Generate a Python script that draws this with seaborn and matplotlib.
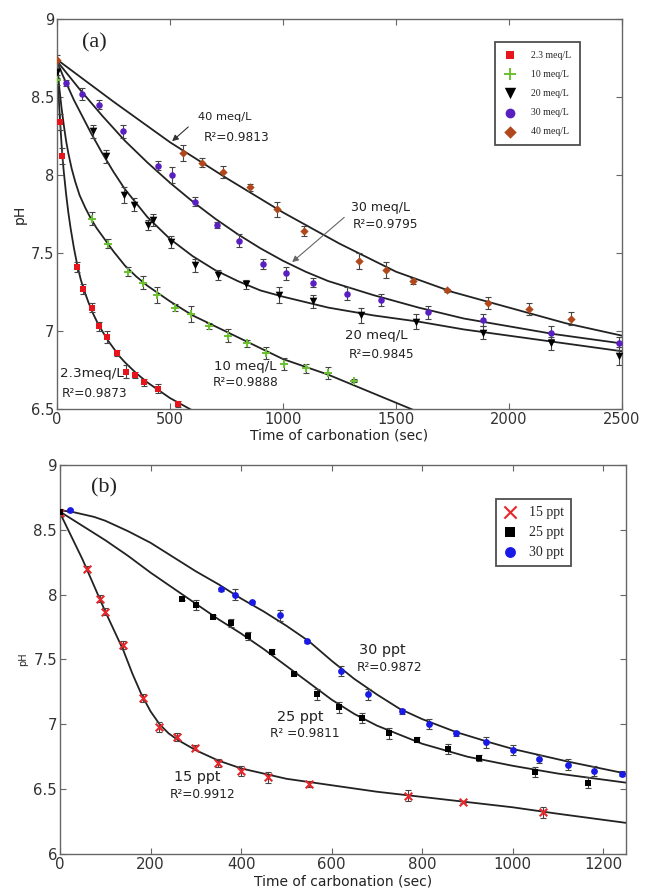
import matplotlib
matplotlib.use("Agg")
import matplotlib.pyplot as plt
import seaborn as sns
import pandas as pd

# ---------------- Panel (a) data ----------------
x23 = [13, 23, 88, 116, 154, 187, 222, 264, 305, 345, 385, 446, 537]
y23 = [8.34, 8.12, 7.41, 7.27, 7.15, 7.03, 6.96, 6.86, 6.74, 6.72, 6.67, 6.63, 6.53]
e23 = [0.05, 0.05, 0.03, 0.03, 0.03, 0.03, 0.04, 0.02, 0.04, 0.02, 0.02, 0.03, 0.02]

x10 = [0, 154, 226, 313, 380, 444, 522, 592, 673, 755, 839, 924, 1006, 1102, 1197, 1314]
y10 = [8.61, 7.72, 7.56, 7.38, 7.31, 7.23, 7.15, 7.11, 7.03, 6.97, 6.92, 6.86, 6.79, 6.76, 6.73, 6.68]
e10 = [0.03, 0.04, 0.03, 0.03, 0.04, 0.05, 0.02, 0.05, 0.02, 0.04, 0.02, 0.04, 0.04, 0.03, 0.04, 0.01]

x20 = [0, 158, 216, 296, 340, 404, 424, 503, 611, 714, 835, 984, 1134, 1345, 1588, 1886, 2185, 2487]
y20 = [8.66, 8.28, 8.12, 7.87, 7.81, 7.68, 7.71, 7.57, 7.42, 7.36, 7.30, 7.23, 7.19, 7.10, 7.06, 6.99, 6.92, 6.84]
e20 = [0.04, 0.04, 0.04, 0.05, 0.04, 0.03, 0.04, 0.04, 0.04, 0.03, 0.03, 0.05, 0.04, 0.05, 0.05, 0.04, 0.04, 0.06]

x30 = [40, 111, 187, 291, 446, 507, 609, 706, 803, 913, 1013, 1134, 1283, 1433, 1642, 1886, 2186, 2487]
y30 = [8.59, 8.52, 8.45, 8.28, 8.06, 8.00, 7.83, 7.68, 7.58, 7.43, 7.37, 7.31, 7.24, 7.20, 7.12, 7.07, 6.99, 6.92]
e30 = [0.02, 0.04, 0.03, 0.04, 0.03, 0.05, 0.03, 0.02, 0.04, 0.03, 0.04, 0.03, 0.04, 0.04, 0.04, 0.04, 0.04, 0.04]

x40 = [0, 557, 641, 733, 853, 974, 1093, 1336, 1455, 1576, 1726, 1907, 2088, 2273]
y40 = [8.74, 8.14, 8.08, 8.02, 7.92, 7.78, 7.64, 7.45, 7.39, 7.32, 7.26, 7.18, 7.14, 7.08]
e40 = [0.03, 0.05, 0.03, 0.04, 0.02, 0.05, 0.03, 0.05, 0.05, 0.02, 0.01, 0.04, 0.04, 0.04]

# fitted curves
f23_x = [0, 5, 10, 15, 20, 25, 30, 40, 50, 60, 75, 90, 105, 120, 140, 160, 180, 200, 225, 250,
         275, 300, 350, 400, 450, 500, 550, 600]
f23_y = [8.73, 8.57, 8.43, 8.31, 8.20, 8.10, 8.02, 7.88, 7.76, 7.66, 7.53, 7.42, 7.33, 7.26, 7.18,
         7.11, 7.05, 7.00, 6.94, 6.89, 6.84, 6.80, 6.73, 6.67, 6.62, 6.57, 6.53, 6.49]
f10_x = [0, 10, 20, 30, 40, 50, 65, 80, 100, 125, 150, 175, 200, 250, 300, 350, 400, 500, 600, 700,
         800, 900, 1000, 1100, 1200, 1300, 1400, 1500, 1600]
f10_y = [8.73, 8.56, 8.43, 8.32, 8.22, 8.14, 8.04, 7.96, 7.87, 7.79, 7.72, 7.66, 7.61, 7.51, 7.42,
         7.35, 7.29, 7.19, 7.10, 7.03, 6.96, 6.89, 6.82, 6.77, 6.72, 6.66, 6.60, 6.54, 6.48]
f20_x = [0, 25, 50, 75, 100, 150, 200, 250, 300, 400, 500, 600, 700, 800, 900, 1000, 1200, 1400,
         1600, 1800, 2000, 2200, 2500]
f20_y = [8.73, 8.64, 8.56, 8.48, 8.41, 8.27, 8.14, 8.02, 7.91, 7.73, 7.59, 7.48, 7.39, 7.32, 7.26,
         7.22, 7.15, 7.10, 7.06, 7.01, 6.97, 6.93, 6.87]
f30_x = [0, 50, 100, 200, 300, 400, 500, 600, 700, 800, 900, 1000, 1100, 1200, 1400, 1600, 1800,
         2000, 2200, 2500]
f30_y = [8.73, 8.64, 8.55, 8.38, 8.22, 8.08, 7.95, 7.83, 7.72, 7.62, 7.53, 7.45, 7.38, 7.32, 7.23,
         7.15, 7.08, 7.03, 6.98, 6.92]
f40_x = [0, 250, 500, 750, 1000, 1250, 1500, 1750, 2000, 2250, 2500]
f40_y = [8.74, 8.47, 8.21, 7.98, 7.76, 7.56, 7.38, 7.25, 7.15, 7.05, 6.97]

# ---------------- Panel (b) data ----------------
x15 = [0, 60, 88, 99, 140, 183, 219, 259, 298, 350, 399, 460, 549, 769, 890, 1067]
y15 = [8.63, 8.20, 7.97, 7.87, 7.61, 7.20, 6.98, 6.90, 6.82, 6.70, 6.64, 6.59, 6.54, 6.45, 6.40, 6.32]
e15 = [0.02, 0.02, 0.03, 0.03, 0.03, 0.03, 0.04, 0.03, 0.02, 0.03, 0.04, 0.04, 0.02, 0.04, 0.01, 0.04]

x25 = [0, 269, 300, 337, 377, 416, 468, 517, 567, 616, 667, 727, 788, 857, 926, 1048, 1167]
y25 = [8.64, 7.97, 7.92, 7.83, 7.78, 7.68, 7.56, 7.39, 7.23, 7.13, 7.05, 6.93, 6.88, 6.81, 6.74, 6.63, 6.55]
e25 = [0.02, 0.01, 0.04, 0.01, 0.03, 0.03, 0.02, 0.01, 0.04, 0.04, 0.04, 0.04, 0.02, 0.04, 0.02, 0.04, 0.04]

x30b = [23, 355, 387, 425, 486, 545, 621, 681, 756, 815, 875, 941, 1001, 1059, 1121, 1180, 1242]
y30b = [8.65, 8.04, 8.00, 7.94, 7.84, 7.64, 7.41, 7.23, 7.10, 7.00, 6.93, 6.86, 6.80, 6.73, 6.69, 6.64, 6.62]
e30b = [0.01, 0.01, 0.04, 0.01, 0.04, 0.01, 0.04, 0.04, 0.02, 0.04, 0.02, 0.04, 0.04, 0.03, 0.04, 0.04, 0.02]

g15_x = [0, 25, 50, 75, 100, 120, 140, 160, 180, 200, 220, 240, 260, 280, 300, 325, 350, 375, 400,
         450, 500, 600, 700, 800, 900, 1000, 1100, 1250]
g15_y = [8.63, 8.45, 8.27, 8.07, 7.87, 7.72, 7.57, 7.39, 7.23, 7.10, 7.00, 6.93, 6.88, 6.84, 6.80,
         6.76, 6.72, 6.69, 6.66, 6.62, 6.58, 6.53, 6.48, 6.44, 6.40, 6.36, 6.31, 6.24]
g25_x = [0, 50, 100, 150, 200, 250, 300, 350, 400, 450, 500, 550, 600, 650, 700, 750, 800, 850,
         900, 1000, 1100, 1250]
g25_y = [8.64, 8.53, 8.42, 8.30, 8.17, 8.05, 7.93, 7.81, 7.70, 7.58, 7.45, 7.32, 7.19, 7.08, 6.99,
         6.92, 6.85, 6.80, 6.75, 6.68, 6.62, 6.55]
g30_x = [0, 25, 50, 75, 100, 150, 200, 250, 300, 350, 400, 450, 500, 550, 600, 650, 700, 750, 800,
         875, 950, 1000, 1125, 1250]
g30_y = [8.65, 8.64, 8.62, 8.60, 8.57, 8.49, 8.40, 8.29, 8.18, 8.08, 7.97, 7.87, 7.76, 7.64, 7.49,
         7.35, 7.23, 7.12, 7.04, 6.94, 6.86, 6.81, 6.71, 6.62]

labels_a = ["2.3 meq/L", "10 meq/L", "20 meq/L", "30 meq/L", "40 meq/L"]
labels_b = ["15 ppt", "25 ppt", "30 ppt"]

# ---------------- style ----------------
sns.set_style("ticks")
plt.rcParams["font.family"] = ["DejaVu Sans"]
plt.rcParams["xtick.direction"] = "in"
plt.rcParams["ytick.direction"] = "in"
plt.rcParams["axes.edgecolor"] = "#666666"
plt.rcParams["xtick.color"] = "#666666"
plt.rcParams["ytick.color"] = "#666666"
plt.rcParams["xtick.labelcolor"] = "#333333"
plt.rcParams["ytick.labelcolor"] = "#333333"

fig = plt.figure(figsize=(6.45, 8.93), dpi=100)
ax1 = fig.add_axes([0.0884, 0.542, 0.876, 0.4367])
ax2 = fig.add_axes([0.093, 0.0437, 0.8775, 0.4356])

LINE = "#222222"
ERR = "#444444"

def series(ax, x, y, e, color, marker, size, label, lw=0.0, ec=None):
    ax.errorbar(x, y, yerr=e, fmt="none", ecolor=ERR, elinewidth=0.8, capsize=2.5, capthick=0.8, zorder=2)
    df = pd.DataFrame({"x": x, "y": y})
    sns.scatterplot(data=df, x="x", y="y", ax=ax, color=color, marker=marker, s=size,
                    linewidth=lw, edgecolor=ec if ec else color, label=label, zorder=3)

def curve(ax, x, y):
    df = pd.DataFrame({"x": x, "y": y})
    sns.lineplot(data=df, x="x", y="y", ax=ax, color=LINE, lw=1.3, sort=False, zorder=1)

# ---------------- panel (a) ----------------
for fx, fy in [(f23_x, f23_y), (f10_x, f10_y), (f20_x, f20_y), (f30_x, f30_y), (f40_x, f40_y)]:
    curve(ax1, fx, fy)
series(ax1, x23, y23, e23, "#e8141b", "s", 16, labels_a[0])
series(ax1, x10, y10, e10, "#6cc030", "+", 30, labels_a[1], lw=1.4)
series(ax1, x20, y20, e20, "#000000", "v", 30, labels_a[2])
series(ax1, x30, y30, e30, "#5a1fc0", "o", 22, labels_a[3])
series(ax1, x40, y40, e40, "#b0481c", "D", 18, labels_a[4])

ax1.set_xlim(0, 2500)
ax1.set_ylim(6.5, 9)
ax1.set_xticks([0, 500, 1000, 1500, 2000, 2500])
ax1.set_yticks([6.5, 7, 7.5, 8, 8.5, 9])
ax1.set_yticklabels(["6.5", "7", "7.5", "8", "8.5", "9"])
ax1.tick_params(axis="both", labelsize=10.5, top=True, right=True, length=4, width=0.8, pad=2)
ax1.set_xlabel("Time of carbonation (sec)", fontsize=10, color="#222222", labelpad=1)
ax1.set_ylabel("pH", fontsize=10, color="#222222", labelpad=3)
for s in ax1.spines.values():
    s.set_linewidth(1.0)

ax1.text(164, 8.85, "(a)", fontsize=16, family=["Liberation Serif"], ha="center", va="center", color="#222222")

rk = dict(fontsize=8.7, color="#222222", ha="left", va="center")
def lab(ax, x, y, s, size):
    ax.text(x, y, s, fontsize=size, color="#222222", ha="left", va="center")

lab(ax1, 625, 8.37, "40 meq/L", 8.2)
ax1.text(650, 8.24, "R²=0.9813", **rk)
ax1.annotate("", xy=(500, 8.205), xytext=(590, 8.32),
             arrowprops=dict(arrowstyle="-|>", color="#333333", lw=0.8, mutation_scale=9))
lab(ax1, 1300, 7.79, "30 meq/L", 9)
ax1.text(1310, 7.68, "R²=0.9795", **rk)
ax1.annotate("", xy=(1031, 7.43), xytext=(1280, 7.74),
             arrowprops=dict(arrowstyle="-|>", color="#666666", lw=0.8, mutation_scale=9))
lab(ax1, 1275, 6.97, "20 meq/L", 9.5)
ax1.text(1290, 6.85, "R²=0.9845", **rk)
lab(ax1, 695, 6.77, "10 meq/L", 9.5)
ax1.text(690, 6.67, "R²=0.9888", **rk)
lab(ax1, 12, 6.73, "2.3meq/L", 9.7)
ax1.text(20, 6.60, "R²=0.9873", **rk)

leg1 = ax1.legend(loc="upper right", bbox_to_anchor=(0.934, 0.954), frameon=True, fancybox=False,
                  prop={"family": "Liberation Serif", "size": 7}, markerscale=1.5,
                  labelspacing=1.05, handletextpad=1.6, borderpad=0.9, handlelength=1.2,
                  edgecolor="#222222")
leg1.get_frame().set_linewidth(1.3)

# ---------------- panel (b) ----------------
for fx, fy in [(g15_x, g15_y), (g25_x, g25_y), (g30_x, g30_y)]:
    curve(ax2, fx, fy)
series(ax2, x15, y15, e15, "#e8262a", "x", 30, labels_b[0], lw=1.5)
series(ax2, x25, y25, e25, "#000000", "s", 22, labels_b[1])
series(ax2, x30b, y30b, e30b, "#1a1ae6", "o", 24, labels_b[2])

ax2.set_xlim(0, 1250)
ax2.set_ylim(6, 9)
ax2.set_xticks([0, 200, 400, 600, 800, 1000, 1200])
ax2.set_yticks([6, 6.5, 7, 7.5, 8, 8.5, 9])
ax2.set_yticklabels(["6", "6.5", "7", "7.5", "8", "8.5", "9"])
ax2.tick_params(axis="both", labelsize=10.8, top=True, right=True, length=4, width=0.8, pad=2)
ax2.set_xlabel("Time of carbonation (sec)", fontsize=10, color="#222222", labelpad=2)
ax2.set_ylabel("pH", fontsize=7, color="#222222", labelpad=4)
for s in ax2.spines.values():
    s.set_linewidth(1.0)

ax2.text(97, 8.82, "(b)", fontsize=16, family=["Liberation Serif"], ha="center", va="center", color="#222222")
rb = dict(fontsize=8.7, color="#222222", ha="left", va="center")
lab(ax2, 660, 7.57, "30 ppt", 10.4)
ax2.text(655, 7.44, "R²=0.9872", **rb)
lab(ax2, 480, 7.06, "25 ppt", 10.4)
ax2.text(464, 6.93, "R² =0.9811", **rb)
lab(ax2, 252, 6.59, "15 ppt", 10.4)
ax2.text(243, 6.46, "R²=0.9912", **rb)

leg2 = ax2.legend(loc="upper right", bbox_to_anchor=(0.915, 0.93), frameon=True, fancybox=False,
                  prop={"family": "Liberation Serif", "size": 10}, markerscale=1.6,
                  labelspacing=0.5, handletextpad=0.9, borderpad=0.5, handlelength=1.0,
                  edgecolor="#222222")
leg2.get_frame().set_linewidth(1.3)

fig.savefig("out.png", dpi=100)
